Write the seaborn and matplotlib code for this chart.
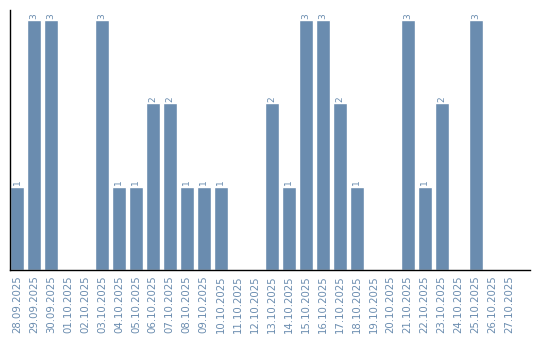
import matplotlib
matplotlib.use("Agg")
import matplotlib.pyplot as plt
import seaborn as sns
import pandas as pd

dates = ["28.09.2025", "29.09.2025", "30.09.2025", "01.10.2025", "02.10.2025",
         "03.10.2025", "04.10.2025", "05.10.2025", "06.10.2025", "07.10.2025",
         "08.10.2025", "09.10.2025", "10.10.2025", "11.10.2025", "12.10.2025",
         "13.10.2025", "14.10.2025", "15.10.2025", "16.10.2025", "17.10.2025",
         "18.10.2025", "19.10.2025", "20.10.2025", "21.10.2025", "22.10.2025",
         "23.10.2025", "24.10.2025", "25.10.2025", "26.10.2025", "27.10.2025"]
values = [1, 3, 3, 0, 0, 3, 1, 1, 2, 2, 1, 1, 1, 0, 0,
          2, 1, 3, 3, 2, 1, 0, 0, 3, 1, 2, 0, 3, 0, 0]

BAR = "#6a8caf"
TXT = "#6a8caf"

sns.set_style("white")
plt.rcParams["font.family"] = ["DejaVu Sans"]

df = pd.DataFrame({"date": dates, "count": values})
fig = plt.figure(figsize=(5.4, 3.4), dpi=100)
ax = fig.add_axes([10/540, 70/340, 520/540, 260/340])
sns.barplot(data=df, x="date", y="count", color=BAR, saturation=1, width=0.82, ax=ax)

labels = [str(v) if v > 0 else "" for v in values]
ax.bar_label(ax.containers[0], labels=labels, rotation=90, fontsize=6.5, color=TXT, padding=1)

ax.set_xlim(-0.41, 30.2)
ax.set_ylim(0, 3.12)
ax.set_xlabel("")
ax.set_ylabel("")
ax.set_yticks([])
ax.tick_params(axis="x", length=0, pad=4, labelsize=7.3, labelcolor=TXT)
for lbl in ax.get_xticklabels():
    lbl.set_rotation(90)
for s in ["top", "right"]:
    ax.spines[s].set_visible(False)
for s in ["left", "bottom"]:
    ax.spines[s].set_color("black")
    ax.spines[s].set_linewidth(1.0)

fig.savefig("out.png", dpi=100)
